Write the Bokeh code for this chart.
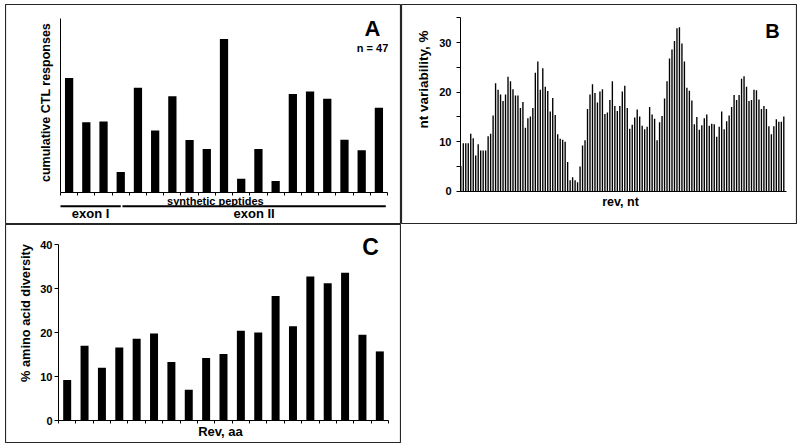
import math
from bokeh.plotting import figure
from bokeh.layouts import row, column
from bokeh.models import Label, FixedTicker, Spacer
from bokeh.embed import file_html
from bokeh.resources import INLINE
from bokeh.core.properties import value

FONT = "Liberation Sans"

# ---------------- data ----------------
# Panel A: cumulative CTL responses per synthetic peptide
peptide_index = list(range(1, 20))
ctl_responses = [17.1, 10.5, 10.6, 3.05, 15.65, 9.25, 14.4, 7.85, 6.5, 22.95,
                 2.05, 6.5, 1.7, 14.7, 15.1, 14.0, 7.9, 6.3, 12.65]
ctl_axis_top = 26.0
exon_names = ["exon I", "exon II"]
exon_first = [0.5, 4.1]
exon_last = [4.0, 19.4]
peptide_caption = "synthetic peptides"
cohort_text = "n = 47"

# Panel B: nucleotide variability along rev
nt_variability = [
    5.1, 9.7, 9.7, 9.7, 11.6, 10.7, 7.2, 9.5, 8.2, 8.2, 8.2, 11.1, 11.6, 15.3, 21.8, 20.5,
    19.5, 18.2, 19.5, 23.1, 22.2, 20.6, 19.3, 19.3, 16.8, 18.0, 12.8, 14.7, 15.1, 16.8, 23.9, 26.2,
    20.5, 24.8, 21.1, 20.2, 16.1, 18.8, 15.4, 11.5, 10.6, 10.4, 10.0, 5.9, 2.2, 2.8, 2.2, 1.8,
    5.0, 9.2, 10.3, 16.6, 19.5, 21.6, 19.8, 17.9, 20.1, 20.6, 15.6, 15.9, 18.4, 22.2, 17.2, 16.2,
    17.2, 20.1, 21.3, 16.8, 12.6, 13.4, 14.9, 16.5, 15.1, 13.2, 12.5, 13.0, 17.0, 15.5, 14.6, 10.3,
    13.9, 15.2, 18.7, 22.2, 26.8, 28.6, 30.3, 32.9, 33.1, 29.8, 26.2, 20.9, 20.3, 18.3, 13.5, 15.0,
    12.4, 13.3, 14.7, 15.5, 13.2, 13.6, 13.5, 11.0, 13.0, 16.1, 12.5, 14.1, 15.3, 17.0, 19.4, 18.4,
    19.4, 22.7, 23.2, 21.1, 18.2, 18.4, 20.5, 20.4, 18.5, 16.6, 17.2, 16.6, 13.1, 11.5, 13.1, 14.5,
    14.0, 14.0, 15.1,
]
nt_index = list(range(1, len(nt_variability) + 1))
nt_major_ticks = [0, 10, 20, 30]
nt_minor_ticks = [5, 15, 25, 35]

# Panel C: amino-acid diversity along Rev
aa_index = list(range(1, 20))
aa_diversity = [9.2, 17.0, 12.0, 16.6, 18.6, 19.8, 13.3, 7.0, 14.2, 15.1,
                20.4, 20.0, 28.3, 21.4, 32.7, 31.2, 33.6, 19.5, 15.7]
aa_ticks = [0, 10, 20, 30, 40]


# ---------------- helpers ----------------
def lin_range(size, p1, v1, p2, v2):
    """range (start, end) so that pixel p1 -> v1 and p2 -> v2 (pixels from start edge)."""
    k = (v2 - v1) / (p2 - p1)
    return (v1 - p1 * k, v1 + (size - p1) * k)


def make_panel(w, h, x_anchor, y_anchor):
    # x_anchor: (px_from_left, value, px_from_left, value)
    # y_anchor: (px_from_top, value, px_from_top, value)
    xr = lin_range(w, *x_anchor)
    yr = lin_range(h, h - y_anchor[0], y_anchor[1], h - y_anchor[2], y_anchor[3])
    p = figure(width=w, height=h, x_range=xr, y_range=yr,
               min_border=0, min_border_left=0, min_border_right=0,
               min_border_top=0, min_border_bottom=0,
               output_backend="svg", toolbar_location=None, tools="")
    p.grid.visible = False
    p.outline_line_color = "#262626"
    p.outline_line_width = 1.2
    p.background_fill_color = "white"
    p.border_fill_color = "white"

    def fx(sx):
        return xr[0] + sx / w * (xr[1] - xr[0])

    def fy(sy):
        return yr[1] - sy / h * (yr[1] - yr[0])
    return p, fx, fy


def style_axis(ax, label_size="11px"):
    ax.axis_line_color = "black"
    ax.axis_line_width = 1
    ax.major_tick_line_color = "black"
    ax.minor_tick_line_color = "black"
    ax.major_label_text_font = FONT
    ax.major_label_text_font_style = "bold"
    ax.major_label_text_font_size = label_size
    ax.major_label_text_color = "black"
    ax.major_tick_in = 0
    ax.minor_tick_in = 0
    ax.major_tick_out = 0
    ax.minor_tick_out = 0


def label(p, x, y, text, size, angle=0.0):
    p.add_layout(Label(x=x, y=y, text=text, angle=angle, text_font=FONT,
                       text_font_style="bold", text_font_size=size,
                       text_color="black", text_align="center",
                       text_baseline="middle"))


W, H_TOP, H_BOT = 396, 220, 219

# ---------------- panel A ----------------
nA = len(peptide_index)
pA, fxA, fyA = make_panel(W, H_TOP, (55, 0.5, 382, nA + 0.5), (188, 0, 14, ctl_axis_top))
pA.vbar(x=peptide_index, top=ctl_responses, width=0.48, fill_color="black", line_color=None)
xa = pA.xaxis[0]
style_axis(xa)
xa.fixed_location = 0
xa.bounds = (0.5, nA + 0.5)
xa.ticker = FixedTicker(ticks=[], minor_ticks=[i + 0.5 for i in range(nA + 1)])
xa.minor_tick_out = 3
ya = pA.yaxis[0]
style_axis(ya)
ya.fixed_location = 0.5
ya.bounds = (0, ctl_axis_top)
ya.ticker = FixedTicker(ticks=[])

pA.text(x=[9.5], y=[fyA(196)], text=[peptide_caption], text_font=value(FONT),
        text_font_style="bold", text_font_size="11px", text_align="center",
        text_baseline="middle", text_color="black")
pA.segment(x0=exon_first, x1=exon_last, y0=[fyA(201.7)] * 2, y1=[fyA(201.7)] * 2,
           line_width=2, line_color="black")
exon_mid = [(a + b) / 2 for a, b in zip(exon_first, exon_last)]
pA.text(x=exon_mid, y=[fyA(209.3)] * 2, text=exon_names, text_font=value(FONT),
        text_font_style="bold", text_font_size="13px", text_align="center",
        text_baseline="middle", text_color="black")
label(pA, fxA(367), fyA(24), "A", "22px")
label(pA, fxA(367), fyA(43), cohort_text, "11px")
label(pA, fxA(40), fyA(98), "cumulative CTL responses", "12.5px", math.pi / 2)

# ---------------- panel B ----------------
nB = len(nt_variability)
pB, fxB, fyB = make_panel(W, H_TOP, (59.3, 1, 382.3, nB), (186.7, 0, 13.3, 35))
pB.vbar(x=nt_index, top=nt_variability, width=0.55, fill_color="black", line_color=None)
xb = pB.xaxis[0]
style_axis(xb)
xb.fixed_location = 0
xb.bounds = (fxB(59), fxB(385))
xb.ticker = FixedTicker(ticks=[])
yb = pB.yaxis[0]
style_axis(yb)
yb.fixed_location = fxB(59)
yb.bounds = (0, 35)
yb.ticker = FixedTicker(ticks=nt_major_ticks, minor_ticks=nt_minor_ticks)
yb.major_tick_out = 4
yb.minor_tick_out = 4
yb.major_label_standoff = 5
label(pB, fxB(371), fyB(26), "B", "20px")
label(pB, fxB(22), fyB(75), "nt variability, %", "13.5px", math.pi / 2)
label(pB, fxB(219), fyB(197.7), "rev, nt", "12.5px")

# ---------------- panel C ----------------
nC = len(aa_index)
pC, fxC, fyC = make_panel(W, H_BOT, (53, 0.5, 383, nC + 0.5), (196, 0, 20, 40))
pC.vbar(x=aa_index, top=aa_diversity, width=0.46, fill_color="black", line_color=None)
xc = pC.xaxis[0]
style_axis(xc)
xc.fixed_location = 0
xc.bounds = (0.5, nC + 0.5)
xc.ticker = FixedTicker(ticks=[], minor_ticks=[i + 0.5 for i in range(nC + 1)])
xc.minor_tick_out = 3
yc = pC.yaxis[0]
style_axis(yc)
yc.fixed_location = 0.5
yc.bounds = (0, 40)
yc.ticker = FixedTicker(ticks=aa_ticks)
yc.major_tick_out = 4
yc.major_label_standoff = 2
label(pC, fxC(365), fyC(22), "C", "23px")
label(pC, fxC(20), fyC(88.5), "% amino acid diversity", "12.8px", math.pi / 2)
label(pC, fxC(215), fyC(206.7), "Rev, aa", "13px")

layout = column(
    Spacer(width=W * 2 + 5, height=4),
    row(Spacer(width=5, height=H_TOP + H_BOT),
        column(pA, pC),
        column(pB, Spacer(width=W, height=H_BOT))),
)
open("out.html", "w").write(file_html(layout, INLINE, title="Rev CTL responses and diversity"))
